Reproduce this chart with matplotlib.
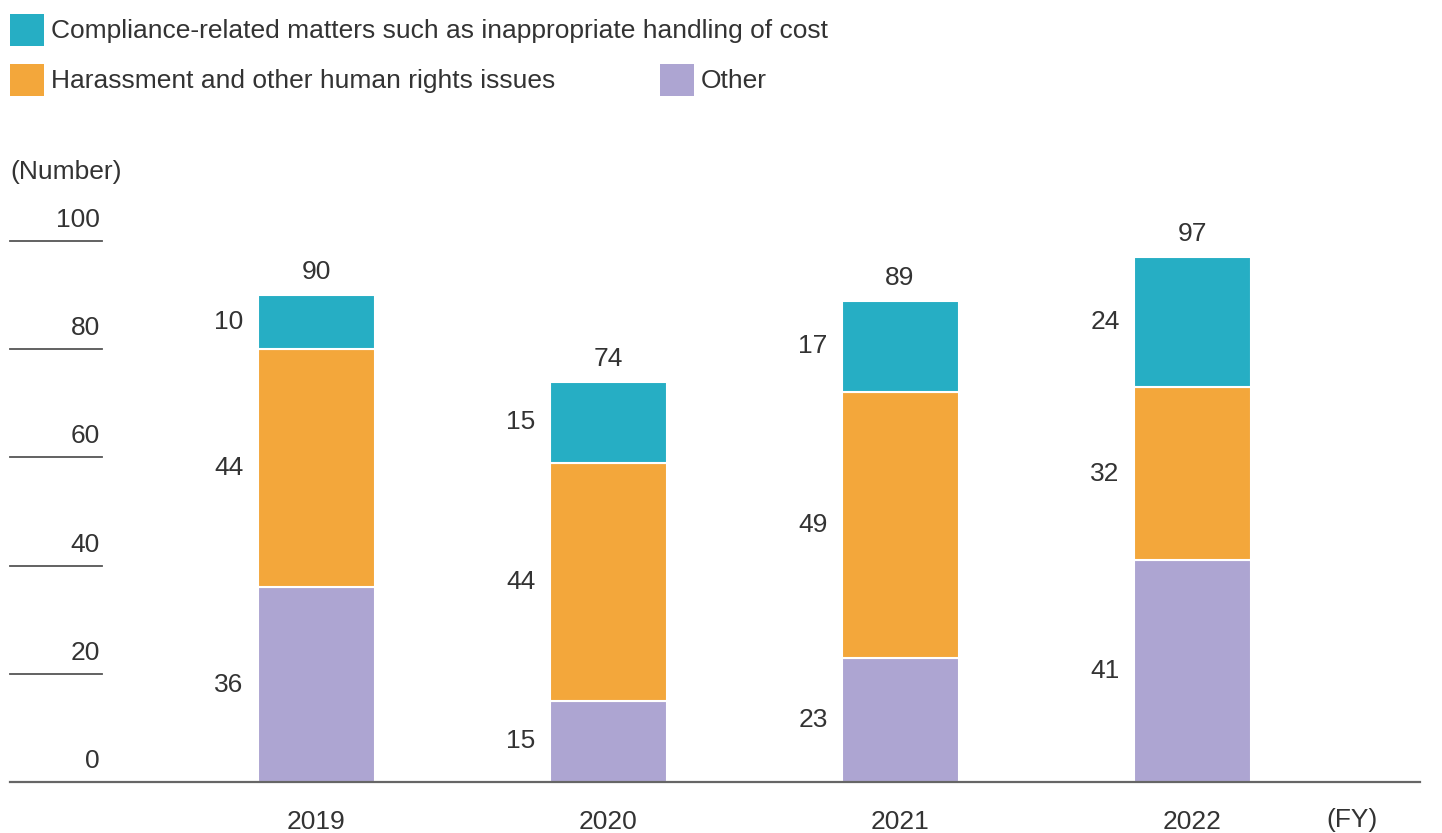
import matplotlib
matplotlib.use("Agg")
import matplotlib.pyplot as plt
from matplotlib.patches import Rectangle
import matplotlib.transforms as mtransforms

years = ["2019", "2020", "2021", "2022"]
other = [36, 15, 23, 41]
harassment = [44, 44, 49, 32]
compliance = [10, 15, 17, 24]
totals = [90, 74, 89, 97]
yticks = [0, 20, 40, 60, 80, 100]

series_names = ["Compliance-related matters such as inappropriate handling of cost",
                "Harassment and other human rights issues", "Other"]
c_teal = "#26AEC4"
c_orange = "#F3A73B"
c_purple = "#ADA5D2"
txt = "#333333"

plt.rcParams['font.family'] = ['Liberation Sans', 'DejaVu Sans']
FS = 19

W, H = 1442, 833
fig = plt.figure(figsize=(W / 100, H / 100), dpi=100)

y0_px, y100_px = 782, 241
ymax = 105
ppu = (y0_px - y100_px) / 100.0
top_px = y0_px - ymax * ppu
ax_left_px, ax_right_px = 10, 1420
ax = fig.add_axes([ax_left_px / W, 1 - y0_px / H, (ax_right_px - ax_left_px) / W, (y0_px - top_px) / H])

x = list(range(len(years)))
spacing = 292.0
x0_px = 316
ax.set_xlim((ax_left_px - x0_px) / spacing, (ax_right_px - x0_px) / spacing)
ax.set_ylim(0, ymax)
bw = 117 / spacing

bottoms2 = [o + h for o, h in zip(other, harassment)]
ax.bar(x, other, width=bw, color=c_purple, edgecolor="white", linewidth=1.5, zorder=2)
ax.bar(x, harassment, width=bw, bottom=other, color=c_orange, edgecolor="white", linewidth=1.5, zorder=2)
ax.bar(x, compliance, width=bw, bottom=bottoms2, color=c_teal, edgecolor="white", linewidth=1.5, zorder=2)

for i in x:
    segs = [(other[i], 0), (harassment[i], other[i]), (compliance[i], bottoms2[i])]
    for val, bot in segs:
        ax.annotate(str(val), (i - bw / 2, bot + val / 2), xytext=(-14, 0), textcoords="offset pixels",
                    ha="right", va="center", fontsize=FS, color=txt)
    ax.annotate(str(totals[i]), (i, totals[i]), xytext=(0, 23), textcoords="offset pixels",
                ha="center", va="center", fontsize=FS, color=txt)

# y tick lines and labels
trans = mtransforms.blended_transform_factory(ax.transAxes, ax.transData)
line_right = (102 - ax_left_px) / (ax_right_px - ax_left_px)
for t in yticks:
    if t > 0:
        ax.plot([0, line_right], [t, t], transform=trans, color="#555555", lw=1.3, clip_on=False)
    ax.annotate(str(t), (line_right, t), xycoords=trans, xytext=(-2, 21), textcoords="offset pixels",
                ha="right", va="center", fontsize=FS, color=txt)

for s in ["top", "left", "right"]:
    ax.spines[s].set_visible(False)
ax.spines["bottom"].set_color("#666666")
ax.spines["bottom"].set_linewidth(1.6)
ax.set_yticks([])
ax.set_xticks(x)
ax.set_xticklabels(years, fontsize=FS, color=txt)
ax.tick_params(axis="x", length=0, pad=20)

fig.text(1352 / W, 1 - 820 / H, "(FY)", ha="center", va="center", fontsize=FS, color=txt)
fig.text(10 / W, 1 - 172 / H, "(Number)", ha="left", va="center", fontsize=FS, color=txt)

# legend
legend_items = [(series_names[0], c_teal, 10, 30), (series_names[1], c_orange, 10, 80),
                (series_names[2], c_purple, 660, 80)]
for name, col, lx, ly in legend_items:
    fig.patches.append(Rectangle((lx / W, 1 - (ly + 16) / H), 34 / W, 32 / H, transform=fig.transFigure,
                                 facecolor=col, edgecolor="none"))
    fig.text((lx + 41) / W, 1 - (ly + 1) / H, name, ha="left", va="center", fontsize=FS, color=txt)

fig.savefig("out.png", dpi=100, facecolor="white")
